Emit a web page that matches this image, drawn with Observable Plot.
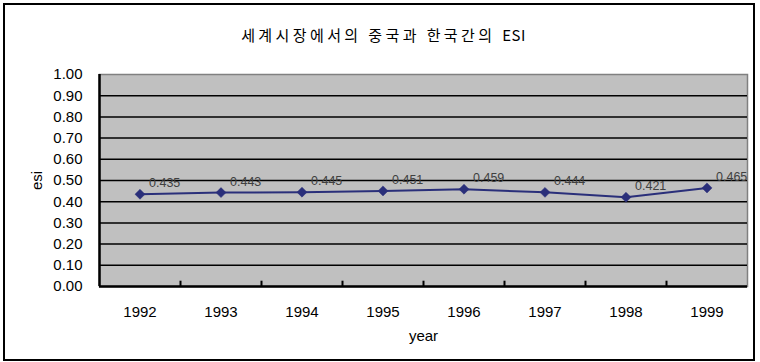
<!DOCTYPE html>
<html>
<head>
<meta charset="utf-8">
<script src="https://cdn.jsdelivr.net/npm/d3@7"></script>
<script src="https://cdn.jsdelivr.net/npm/@observablehq/plot@0.6"></script>
<style>
  body { margin: 0; background: #fff; }
  #chart { position: relative; width: 760px; height: 362px; }
  #chart .outline {
    position: absolute; left: 3px; top: 3px; width: 748px; height: 354px;
    border: 2px solid #000; pointer-events: none;
  }
</style>
</head>
<body>
<div id="chart"><div class="outline"></div></div>
<script>
// Chart text
const titleKo = "세계시장에서의 중국과 한국간의";
const titleEn = "ESI";
const title = titleKo + " " + titleEn;
const xLabel = "year";
const yLabel = "esi";

// Series: ESI between China and Korea in the world market
const years = [1992, 1993, 1994, 1995, 1996, 1997, 1998, 1999];
const esi = [0.435, 0.443, 0.445, 0.451, 0.459, 0.444, 0.421, 0.465];

// Value-axis ticks
const yTicks = [0, 0.1, 0.2, 0.3, 0.4, 0.5, 0.6, 0.7, 0.8, 0.9, 1.0];

const data = years.map((year, i) => ({year, esi: esi[i]}));

// Categories occupy unit-wide slots centred on each year
const xDomain = [years[0] - 0.5, years[years.length - 1] + 0.5];
const slotEdges = years.slice(0, -1).map(y => y + 0.5);

const navy = "#2a2f7a";
const font = "'Liberation Sans', Arial, 'Noto Sans CJK KR', sans-serif";

const chart = Plot.plot({
  width: 760,
  height: 362,
  marginLeft: 99,
  marginRight: 13,
  marginTop: 74,
  marginBottom: 76,
  style: { fontFamily: font, fontSize: "15px", color: "#000", background: "transparent" },
  x: {
    domain: xDomain,
    ticks: years,
    tickFormat: d => String(d),
    tickSize: 0,
    tickPadding: 20,
    label: xLabel,
    labelArrow: "none",
    labelAnchor: "center",
    labelOffset: 54
  },
  y: {
    domain: [0, 1],
    ticks: yTicks,
    tickFormat: d3.format(".2f"),
    tickSize: 0,
    tickPadding: 17,
    label: yLabel,
    labelArrow: "none",
    labelAnchor: "center",
    labelOffset: 68
  },
  marks: [
    Plot.frame({ fill: "#c0c0c0", stroke: "#808080", strokeWidth: 1.5 }),
    Plot.ruleY(yTicks.filter(v => v > 0 && v < 1), { stroke: "#000", strokeWidth: 1.5 }),
    Plot.ruleY([0], { stroke: "#000", strokeWidth: 2.5 }),
    Plot.ruleX([xDomain[0]], { stroke: "#000", strokeWidth: 2.5 }),
    Plot.ruleX(slotEdges, { y1: 0, y2: 0.025, stroke: "#000", strokeWidth: 2 }),
    Plot.line(data, { x: "year", y: "esi", stroke: navy, strokeWidth: 2 }),
    Plot.dot(data, { x: "year", y: "esi", symbol: "diamond2", r: 4.5, fill: navy, stroke: navy, strokeWidth: 0.5 }),
    Plot.text(data, {
      x: "year", y: "esi",
      text: d => d.esi.toFixed(3),
      textAnchor: "start", dx: 9, dy: -11,
      fontSize: 12.5, fill: "#404040"
    }),
    Plot.text([title], {
      frameAnchor: "top", dx: -40, dy: -44,
      fontSize: 15, fill: "#000",
      fontFamily: "'Noto Sans CJK KR', " + font
    })
  ]
});

// Title: spaced-out Hangul followed by a normally spaced "ESI"
d3.select(chart).selectAll("text")
  .filter(function () { return this.textContent === title; })
  .each(function () {
    const t = d3.select(this).text(null);
    t.append("tspan").style("letter-spacing", "3.4px").text(titleKo + " ");
    t.append("tspan").style("letter-spacing", "0.5px").text(titleEn);
  });

document.getElementById("chart").prepend(chart);
</script>
</body>
</html>
